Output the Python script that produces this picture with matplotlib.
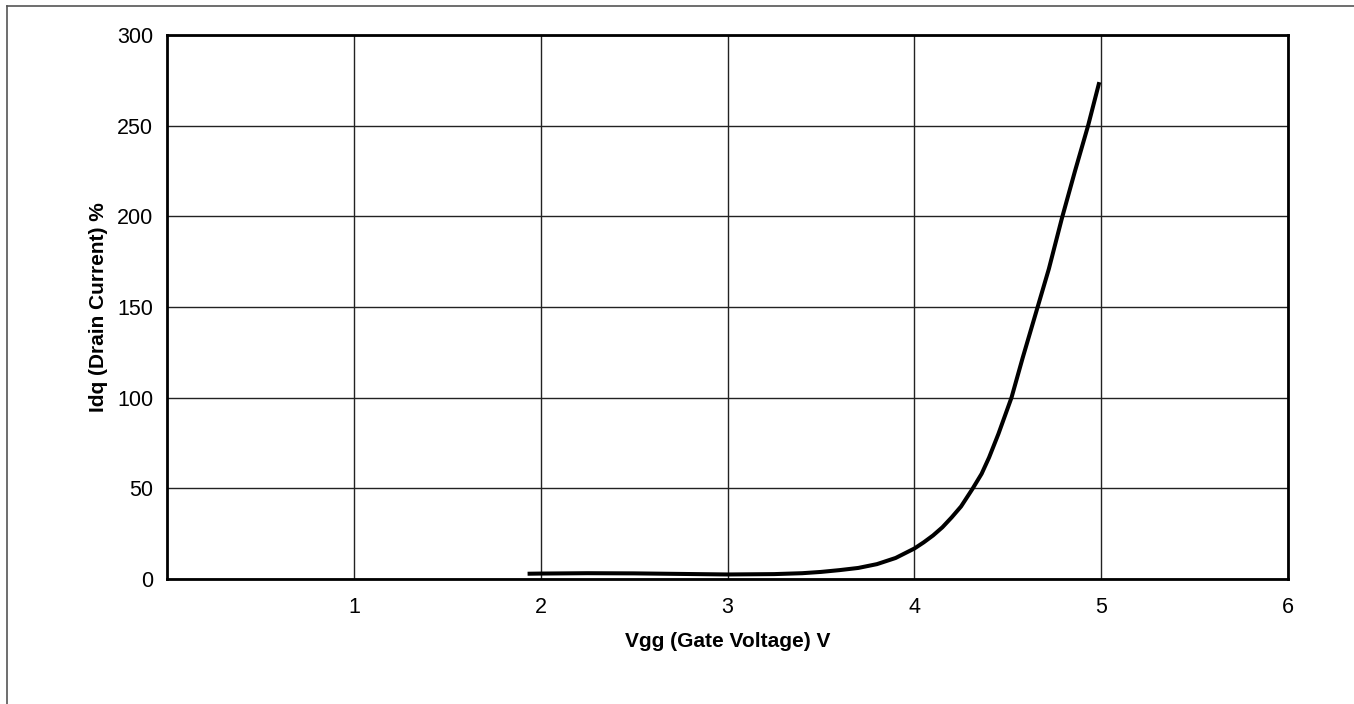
import matplotlib
matplotlib.use("Agg")
import matplotlib.pyplot as plt
from matplotlib.lines import Line2D

plt.rcParams['font.family'] = ['Liberation Sans', 'DejaVu Sans']

# curve
vgg = [1.93, 2.0, 2.25, 2.5, 2.75, 3.0, 3.25, 3.4, 3.5, 3.6, 3.7, 3.8, 3.9, 4.0,
       4.05, 4.1, 4.15, 4.2, 4.25, 4.31, 4.36, 4.4, 4.45, 4.52, 4.58, 4.66, 4.72,
       4.79, 4.86, 4.93, 4.99]
idq = [2.9, 3.0, 3.2, 3.1, 2.8, 2.5, 2.7, 3.2, 3.9, 4.9, 6.1, 8.2, 11.6, 16.8,
       20.2, 24, 28.5, 34, 40, 49.5, 58, 67, 80, 100, 122, 150, 171,
       199, 225, 250, 274]

x_ticks = [1, 2, 3, 4, 5, 6]
y_ticks = [0, 50, 100, 150, 200, 250, 300]

fig = plt.figure(figsize=(13.54, 7.04), dpi=100)
ax = fig.add_axes([167/1354, 1 - 579/704, (1288-167)/1354, (579-35)/704])

ax.plot(vgg, idq, color='black', lw=2.9, solid_capstyle='butt', solid_joinstyle='round')

ax.set_xlim(0, 6)
ax.set_ylim(0, 300)
ax.set_xticks(x_ticks)
ax.set_yticks(y_ticks)
ax.tick_params(axis='both', length=0, labelsize=15.5)
ax.tick_params(axis='x', pad=13)
ax.tick_params(axis='y', pad=10)
ax.grid(True, color='#222222', lw=1.0)
for s in ax.spines.values():
    s.set_linewidth(2.0)

ax.set_xlabel('Vgg (Gate Voltage) V', fontsize=15, fontweight='bold')
ax.set_ylabel('Idq (Drain Current) %', fontsize=15, fontweight='bold')
ax.xaxis.set_label_coords(0.5, -0.097)
ax.yaxis.set_label_coords(-0.053, 0.5)

# outer frame, only top and left edges fall inside the image
fig.add_artist(Line2D([7/1354, 7/1354], [0, 1 - 6/704], transform=fig.transFigure, color='#555555', lw=1.2))
fig.add_artist(Line2D([7/1354, 1], [1 - 6/704, 1 - 6/704], transform=fig.transFigure, color='#555555', lw=1.2))

fig.savefig('out.png', dpi=100)
